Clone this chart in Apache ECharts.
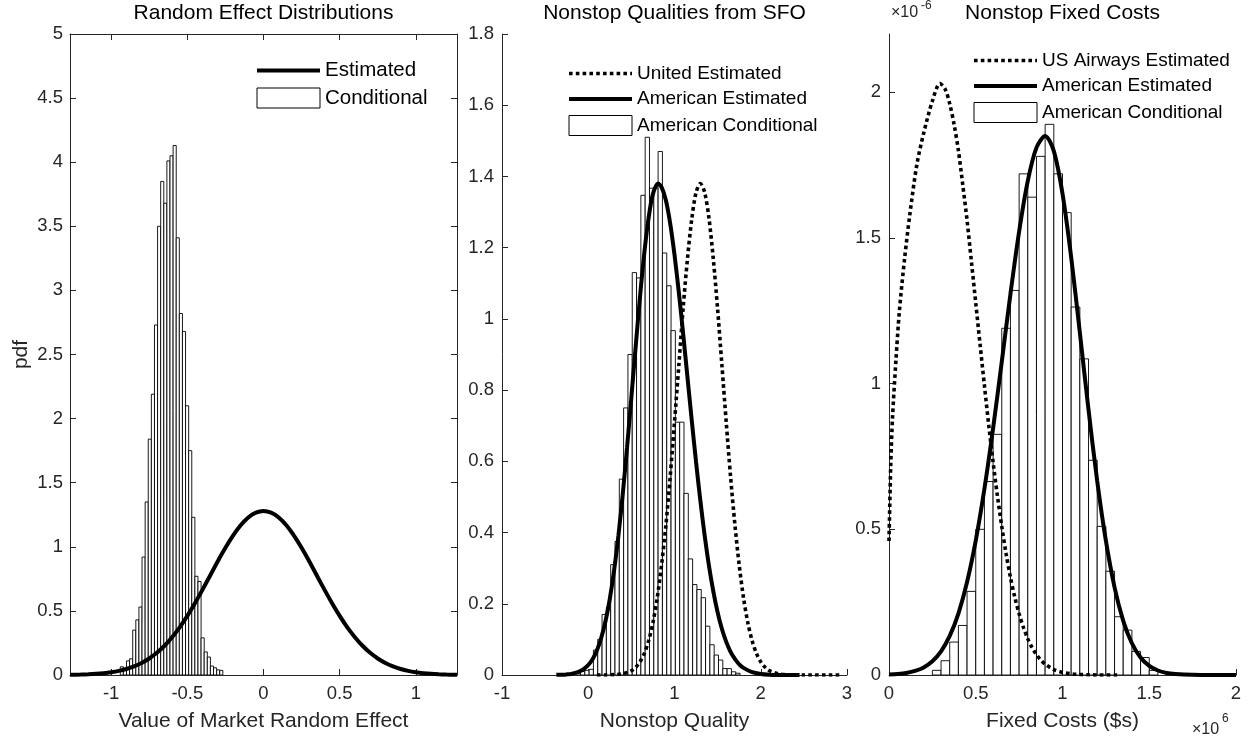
<!DOCTYPE html>
<html>
<head>
<meta charset="utf-8">
<script src="https://cdn.jsdelivr.net/npm/echarts@6/dist/echarts.min.js"></script>
<style>
  html, body { margin: 0; padding: 0; background: #fff; }
  #chart { width: 1256px; height: 740px; }
</style>
</head>
<body>
<div id="chart"></div>
<script>
// ---------- Panel 1: market random effect ----------
const reBinStart = -0.94;
const reBinWidth = 0.0204;
const reCondHeights = [0.064, 0.05, 0.11, 0.126, 0.35, 0.43, 0.53, 0.92, 1.35, 1.84, 2.19, 2.73, 3.50,
  3.85, 3.68, 4.01, 4.05, 4.13, 3.41, 2.82, 2.68, 2.10, 1.75, 1.23, 0.77, 0.73, 0.29, 0.18, 0.14,
  0.07, 0.056, 0.04, 0.036];
const reEstX = [-1.27, -1.25, -1.2, -1.15, -1.1, -1.05, -1.0, -0.95, -0.9, -0.85, -0.8, -0.75, -0.7,
  -0.65, -0.6, -0.55, -0.5, -0.45, -0.4, -0.35, -0.3, -0.25, -0.2, -0.15, -0.1, -0.05, 0,
  0.05, 0.1, 0.15, 0.2, 0.25, 0.3, 0.35, 0.4, 0.45, 0.5, 0.55, 0.6, 0.65, 0.7, 0.75, 0.8, 0.85,
  0.9, 0.95, 1.0, 1.05, 1.1, 1.15, 1.2, 1.25, 1.27];
const reEstY = [0.0018, 0.0022, 0.0036, 0.0058, 0.0092, 0.0142, 0.0216, 0.032, 0.047, 0.067, 0.094,
  0.129, 0.173, 0.228, 0.295, 0.372, 0.461, 0.560, 0.666, 0.776, 0.887, 0.992, 1.087, 1.168, 1.229,
  1.267, 1.28,
  1.267, 1.229, 1.168, 1.087, 0.992, 0.887, 0.776, 0.666, 0.560, 0.461, 0.372, 0.295, 0.228, 0.173,
  0.129, 0.094, 0.067, 0.047, 0.032, 0.0216, 0.0142, 0.0092, 0.0058, 0.0036, 0.0022, 0.0018];
const reXTicks = [-1, -0.5, 0, 0.5, 1];

// ---------- Panel 2: nonstop qualities from SFO ----------
const nqBinStart = -0.14;
const nqBinWidth = 0.05;
const nqCondHeights = [0.005, 0.01, 0.013, 0.016, 0.07, 0.10, 0.17, 0.19, 0.31, 0.375, 0.55, 0.75,
  0.90, 1.13, 1.115, 1.347, 1.51, 1.367, 1.367, 1.47, 1.185, 1.093, 0.967, 0.71, 0.71, 0.51, 0.326,
  0.254, 0.24, 0.217, 0.137, 0.085, 0.056, 0.042, 0.018, 0.018, 0.009, 0.005];
const nqAmEstX = [-0.37, -0.3, -0.25, -0.2, -0.15, -0.1, -0.05, 0, 0.05, 0.1, 0.15, 0.2, 0.25, 0.3,
  0.35, 0.4, 0.45, 0.5, 0.55, 0.6, 0.65, 0.7, 0.75, 0.81, 0.85, 0.9, 0.95, 1.0, 1.05, 1.1, 1.15,
  1.2, 1.25, 1.3, 1.35, 1.4, 1.45, 1.5, 1.55, 1.6, 1.65, 1.7, 1.75, 1.8, 1.9, 2.0, 2.1, 2.2, 2.45];
const nqAmEstY = [0.0004, 0.0009, 0.0017, 0.003, 0.0058, 0.010, 0.017, 0.028, 0.0445, 0.069, 0.104,
  0.151, 0.214, 0.294, 0.392, 0.508, 0.639, 0.78, 0.923, 1.062, 1.185, 1.284, 1.351, 1.38, 1.370,
  1.333, 1.268, 1.18, 1.075, 0.959, 0.837, 0.715, 0.598, 0.489, 0.391, 0.306, 0.235, 0.176, 0.129,
  0.093, 0.065, 0.045, 0.030, 0.020, 0.008, 0.003, 0.001, 0.0003, 0];
const nqUaEstX = [0.1, 0.2, 0.3, 0.4, 0.5, 0.55, 0.6, 0.65, 0.7, 0.75, 0.8, 0.85, 0.9, 0.95, 1.0,
  1.05, 1.1, 1.15, 1.2, 1.25, 1.3, 1.35, 1.4, 1.45, 1.5, 1.55, 1.6, 1.65, 1.7, 1.75, 1.8, 1.85, 1.9,
  1.95, 2.0, 2.05, 2.1, 2.2, 2.3, 2.5, 2.93];
const nqUaEstY = [0, 0.0002, 0.001, 0.0035, 0.012, 0.0215, 0.037, 0.0606, 0.096, 0.147, 0.217,
  0.309, 0.42, 0.557, 0.71, 0.869, 1.03, 1.168, 1.28, 1.355, 1.38, 1.355, 1.282, 1.168, 1.027,
  0.869, 0.709, 0.557, 0.423, 0.309, 0.217, 0.147, 0.096, 0.0606, 0.037, 0.0215, 0.012, 0.0035,
  0.0008, 0.0001, 0];

// ---------- Panel 3: nonstop fixed costs (x in 10^6 $, pdf in 10^-6 per $) ----------
const fcBinStart = 0.25;
const fcBinWidth = 0.05;
const fcCondHeights = [0.016, 0.049, 0.113, 0.17, 0.287, 0.50, 0.664, 0.826, 1.19, 1.32, 1.72,
  1.64, 1.78, 1.89, 1.72, 1.587, 1.263, 1.085, 0.737, 0.51, 0.356, 0.2, 0.154, 0.081, 0.06, 0.016];
const fcAmEstX = [0, 0.05, 0.1, 0.15, 0.2, 0.25, 0.3, 0.35, 0.4, 0.45, 0.5, 0.55, 0.6, 0.65, 0.7,
  0.75, 0.8, 0.85, 0.9, 0.95, 1.0, 1.05, 1.1, 1.15, 1.2, 1.25, 1.3, 1.35, 1.4, 1.45, 1.5, 1.55,
  1.6, 1.65, 1.7, 1.8, 2.0];
const fcAmEstY = [0.0016, 0.0035, 0.007, 0.014, 0.026, 0.047, 0.081, 0.134, 0.211, 0.319, 0.461,
  0.639, 0.847, 1.075, 1.308, 1.522, 1.696, 1.810, 1.85, 1.798, 1.652, 1.434, 1.175, 0.910, 0.666,
  0.461, 0.301, 0.186, 0.109, 0.060, 0.031, 0.0154, 0.0071, 0.0031, 0.0013, 0.0002, 0];
const fcUsEstX = [0, 0.01, 0.02, 0.04, 0.06, 0.09, 0.12, 0.16, 0.2, 0.25, 0.294, 0.325, 0.35, 0.375,
  0.4, 0.425, 0.45, 0.475, 0.5, 0.525, 0.55, 0.575, 0.6, 0.625, 0.65, 0.675, 0.7, 0.725, 0.75,
  0.775, 0.8, 0.825, 0.85, 0.875, 0.9, 0.95, 1.0, 1.05, 1.1, 1.15, 1.2, 1.33];
const fcUsEstY = [0.46, 0.72, 0.88, 1.08, 1.25, 1.43, 1.58, 1.75, 1.86, 1.97, 2.03, 2.009, 1.96,
  1.890, 1.80, 1.683, 1.56, 1.419, 1.277, 1.134, 0.993, 0.857, 0.73, 0.614, 0.51, 0.416, 0.335,
  0.267, 0.21, 0.163, 0.124, 0.0935, 0.07, 0.051, 0.037, 0.0185, 0.009, 0.004, 0.0017, 0.0007,
  0.0002, 0];
const fcYTicks = [0, 0.5, 1, 1.5, 2];

// ---------- helpers ----------
const FONT = 'Liberation Sans, Arial, Helvetica, sans-serif';
const AXIS_COLOR = '#262626';

function histBins(start, width, heights) {
  return heights.map((h, i) => [start + i * width, start + (i + 1) * width, h]);
}
function pairs(xs, ys) {
  return xs.map((x, i) => [x, ys[i]]);
}
function histItem(params, api) {
  const lo = api.coord([api.value(0), api.value(2)]);
  const hi = api.coord([api.value(1), 0]);
  return {
    type: 'rect',
    shape: { x: lo[0], y: lo[1], width: hi[0] - lo[0], height: hi[1] - lo[1] },
    style: { fill: '#ffffff', stroke: '#000000', lineWidth: 0.9 }
  };
}
function histSeries(name, idx, data) {
  return {
    type: 'custom', name: name, xAxisIndex: idx, yAxisIndex: idx,
    renderItem: histItem, data: data, clip: true,
    encode: { x: [0, 1], y: 2 },
    itemStyle: { color: '#ffffff', borderColor: '#000000', borderWidth: 1 }
  };
}
function curveSeries(name, idx, data, dotted) {
  return {
    type: 'line', name: name, xAxisIndex: idx, yAxisIndex: idx,
    data: data, symbol: 'none', showSymbol: false, smooth: 0.3,
    lineStyle: dotted
      ? { color: '#000', width: 3.6, type: [3.6, 3.2], cap: 'butt' }
      : { color: '#000', width: 4 },
    itemStyle: { color: '#000' },
    z: 3
  };
}
const tickLabel = { color: AXIS_COLOR, fontFamily: FONT, fontSize: 18.5 };
const axisLine = { show: true, onZero: false, lineStyle: { color: AXIS_COLOR, width: 1 } };
const nameStyle = { color: AXIS_COLOR, fontFamily: FONT, fontSize: 21 };
function tick(values) {
  const t = { show: true, inside: true, length: 6, lineStyle: { color: AXIS_COLOR } };
  if (values) t.customValues = values;
  return t;
}
const histLegendStyle = { color: '#ffffff', borderColor: '#000000', borderWidth: 1 };
function legendBlock(left, top, names, boxName, fontSize, gap) {
  return {
    orient: 'vertical', left: left, top: top, padding: 0,
    itemWidth: 63, itemHeight: 20, itemGap: gap,
    textStyle: { color: '#000', fontFamily: FONT, fontSize: fontSize },
    lineStyle: { width: 'inherit', type: 'inherit' },
    selectedMode: false,
    data: names.map(n => n === boxName
      ? { name: n, icon: 'rect', itemStyle: histLegendStyle }
      : { name: n, itemStyle: { opacity: 0 } })
  };
}
const titleStyle = { fontFamily: FONT, fontSize: 21, fontWeight: 'normal', color: '#000' };

const option = {
  animation: false,
  backgroundColor: '#ffffff',
  title: [
    { text: 'Random Effect Distributions', left: 263.5, top: 3, textAlign: 'center', padding: 0, textStyle: titleStyle },
    { text: 'Nonstop Qualities from SFO', left: 674.5, top: 3, textAlign: 'center', padding: 0, textStyle: titleStyle },
    { text: 'Nonstop Fixed Costs', left: 1062.5, top: 3, textAlign: 'center', padding: 0, textStyle: titleStyle }
  ],
  legend: [
    legendBlock(255, 60, ['Estimated', 'Conditional'], 'Conditional', 20.5, 6.5),
    legendBlock(567, 64, ['United Estimated', 'American Estimated', 'American Conditional'], 'American Conditional', 19, 6.5),
    legendBlock(972, 51, ['US Airways Estimated', 'American Estimated', 'American Conditional'], 'American Conditional', 19, 6.5)
  ],
  grid: [
    { left: 70, top: 34, width: 387, height: 641 },
    { left: 502, top: 34, width: 345, height: 641 },
    { left: 889, top: 34, width: 347, height: 641 }
  ],
  xAxis: [
    { type: 'value', gridIndex: 0, min: -1.27, max: 1.27, position: 'bottom',
      axisLine: axisLine, axisTick: tick(reXTicks), splitLine: { show: false },
      axisLabel: Object.assign({ margin: 9, customValues: reXTicks }, tickLabel),
      name: 'Value of Market Random Effect', nameLocation: 'middle', nameGap: 36, nameTextStyle: nameStyle },
    { type: 'value', gridIndex: 0, min: -1.27, max: 1.27, position: 'top',
      axisLine: axisLine, axisTick: tick(reXTicks), splitLine: { show: false },
      axisLabel: { show: false } },
    { type: 'value', gridIndex: 1, min: -1, max: 3, interval: 1,
      axisLine: axisLine, axisTick: tick(), splitLine: { show: false },
      axisLabel: Object.assign({ margin: 9 }, tickLabel),
      name: 'Nonstop Quality', nameLocation: 'middle', nameGap: 36, nameTextStyle: nameStyle },
    { type: 'value', gridIndex: 2, min: 0, max: 2, interval: 0.5,
      axisLine: axisLine, axisTick: tick(), splitLine: { show: false },
      axisLabel: Object.assign({ margin: 9 }, tickLabel),
      name: 'Fixed Costs ($s)', nameLocation: 'middle', nameGap: 36, nameTextStyle: nameStyle }
  ],
  yAxis: [
    { type: 'value', gridIndex: 0, min: 0, max: 5, interval: 0.5, position: 'left',
      axisLine: axisLine, axisTick: tick(), splitLine: { show: false },
      axisLabel: Object.assign({ margin: 7 }, tickLabel),
      name: 'pdf', nameLocation: 'middle', nameGap: 38, nameRotate: 90, nameTextStyle: nameStyle },
    { type: 'value', gridIndex: 0, min: 0, max: 5, interval: 0.5, position: 'right',
      axisLine: axisLine, axisTick: tick(), splitLine: { show: false },
      axisLabel: { show: false } },
    { type: 'value', gridIndex: 1, min: 0, max: 1.8, interval: 0.2,
      axisLine: axisLine, axisTick: tick(), splitLine: { show: false },
      axisLabel: Object.assign({ margin: 8 }, tickLabel) },
    { type: 'value', gridIndex: 2, min: 0, max: 2.2,
      axisLine: axisLine, axisTick: tick(fcYTicks), splitLine: { show: false },
      axisLabel: Object.assign({ margin: 8, customValues: fcYTicks }, tickLabel) }
  ],
  series: [
    histSeries('Conditional', 0, histBins(reBinStart, reBinWidth, reCondHeights)),
    curveSeries('Estimated', 0, pairs(reEstX, reEstY), false),
    histSeries('American Conditional', 2, histBins(nqBinStart, nqBinWidth, nqCondHeights)),
    curveSeries('United Estimated', 2, pairs(nqUaEstX, nqUaEstY), true),
    curveSeries('American Estimated', 2, pairs(nqAmEstX, nqAmEstY), false),
    histSeries('American Conditional', 3, histBins(fcBinStart, fcBinWidth, fcCondHeights)),
    curveSeries('US Airways Estimated', 3, pairs(fcUsEstX, fcUsEstY), true),
    curveSeries('American Estimated', 3, pairs(fcAmEstX, fcAmEstY), false)
  ],
  graphic: [
    { type: 'text', left: 891, top: 5, style: { text: '×10', fill: AXIS_COLOR, font: '16px ' + FONT } },
    { type: 'text', left: 921, top: 0, style: { text: '-6', fill: AXIS_COLOR, font: '12px ' + FONT } },
    { type: 'text', left: 1192, top: 722, style: { text: '×10', fill: AXIS_COLOR, font: '16px ' + FONT } },
    { type: 'text', left: 1222, top: 713, style: { text: '6', fill: AXIS_COLOR, font: '12px ' + FONT } }
  ]
};

const chart = echarts.init(document.getElementById('chart'), null, { renderer: 'canvas' });
chart.setOption(option);
</script>
</body>
</html>
